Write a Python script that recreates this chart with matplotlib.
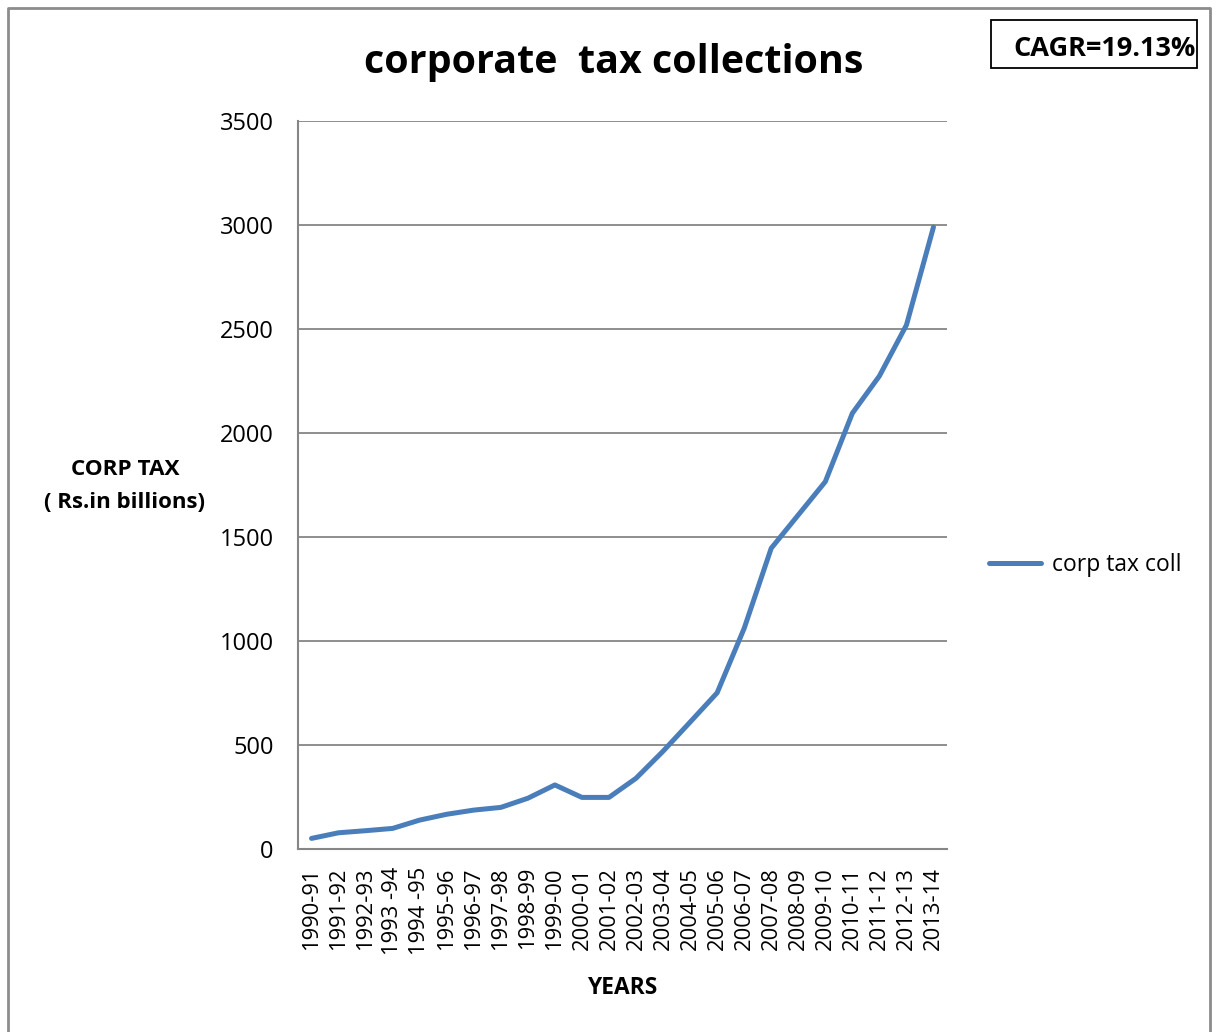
import matplotlib
matplotlib.use("Agg")
import matplotlib.pyplot as plt
from matplotlib.patches import Rectangle
from matplotlib.lines import Line2D

plt.rcParams['font.family'] = ['Open Sans', 'DejaVu Sans']

years = ['1990-91', '1991-92', '1992-93', '1993 -94', '1994 -95', '1995-96',
         '1996-97', '1997-98', '1998-99', '1999-00', '2000-01', '2001-02',
         '2002-03', '2003-04', '2004-05', '2005-06', '2006-07', '2007-08',
         '2008-09', '2009-10', '2010-11', '2011-12', '2012-13', '2013-14']
corp_tax = [51, 78, 88, 99, 139, 167, 187, 200, 244, 308, 248, 248,
            340, 470, 610, 751, 1061, 1446, 1606, 1766, 2095, 2274, 2519, 2990]
y_ticks = [0, 500, 1000, 1500, 2000, 2500, 3000, 3500]

W, H = 1217, 1032
fig = plt.figure(figsize=(W / 100, H / 100), dpi=100)

grey = '#868686'
blue = '#4a7ebb'

ax = fig.add_axes([298 / W, 1 - 849 / H, 649 / W, 728 / H])
x = list(range(len(years)))
line, = ax.plot(x, corp_tax, color=blue, lw=3.6, solid_capstyle='round',
                solid_joinstyle='round', label='corp tax coll', zorder=3)
ax.set_xlim(-0.5, len(years) - 0.5)
ax.set_ylim(0, 3500)
ax.set_yticks(y_ticks)
ax.set_xticks(x)
ax.set_xticklabels(years, rotation=90, fontsize=15.8)
ax.tick_params(axis='y', labelsize=17, length=0, pad=17.5)
ax.tick_params(axis='x', length=0, pad=13)
ax.yaxis.grid(True, color=grey, lw=1.3)
ax.set_axisbelow(True)
for s in ('top', 'right'):
    ax.spines[s].set_visible(False)
for s in ('left', 'bottom'):
    ax.spines[s].set_color(grey)
    ax.spines[s].set_linewidth(1.5)

# chart title and axis captions
fig.text(614 / W, 1 - 62 / H, 'corporate  tax collections', ha='center',
         va='center', fontsize=28.4, fontweight='bold')
fig.text(125 / W, 1 - 470 / H, 'CORP TAX', ha='center', va='center',
         fontsize=16.2, fontweight='bold')
fig.text(125 / W, 1 - 502 / H, '( Rs.in billions)', ha='center', va='center',
         fontsize=16, fontweight='bold')
fig.text(622 / W, 1 - 988 / H, 'YEARS', ha='center', va='center',
         fontsize=16.4, fontweight='bold')

# legend on the right
leg = fig.legend(handles=[line], loc='center left',
                 bbox_to_anchor=(968 / W, 1 - 565 / H), frameon=False,
                 fontsize=16.5, handlelength=2.3, handletextpad=0.45)

# CAGR annotation box
fig.add_artist(Rectangle((991 / W, 1 - 68 / H), 206 / W, 48 / H,
                         transform=fig.transFigure, fill=False,
                         edgecolor='black', lw=1.3))
fig.text(1105 / W, 1 - 49 / H, 'CAGR=19.13%', ha='center', va='center',
         fontsize=19.5, fontweight='bold')

# outer chart border
fig.add_artist(Line2D([8 / W, 8 / W, 1210 / W, 1210 / W],
                      [0, 1 - 8 / H, 1 - 8 / H, 0],
                      transform=fig.transFigure, color='#8c8c8c', lw=2))

fig.savefig('out.png', dpi=100, facecolor='white')
